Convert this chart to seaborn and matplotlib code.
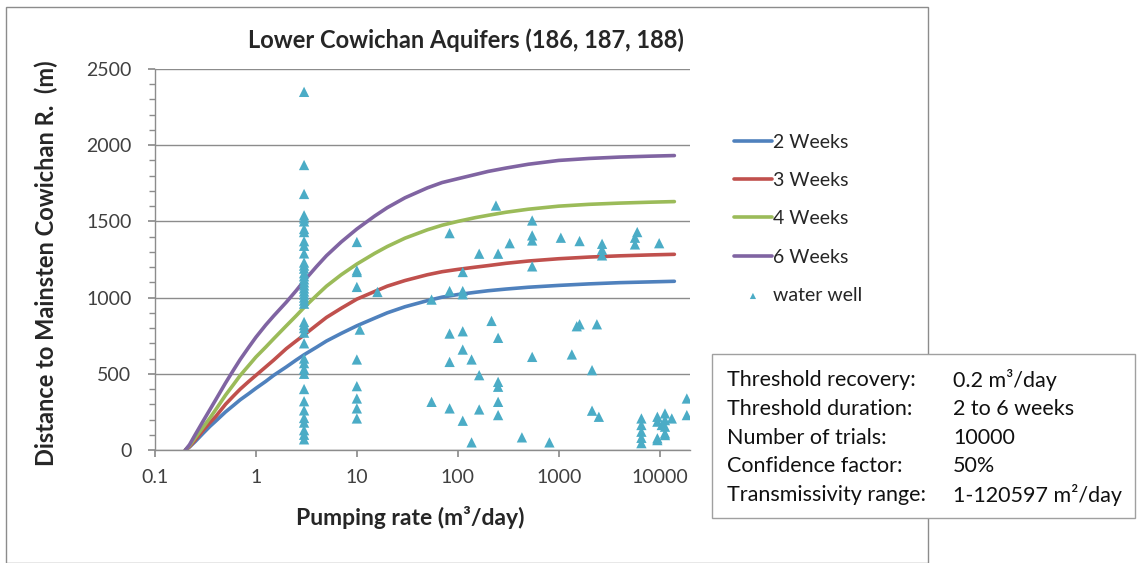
import seaborn as sns
import matplotlib.pyplot as plt
import pandas as pd
from matplotlib.patches import Rectangle
from matplotlib.ticker import FixedLocator, MultipleLocator

# curve values (pumping rate m3/day -> distance m)
curve_q = [0.2, 0.22, 0.25, 0.3, 0.35, 0.4, 0.5, 0.6, 0.7, 0.85, 1, 1.25, 1.5, 2, 2.5, 3, 4,
           5, 7, 10, 15, 20, 30, 50, 70, 100, 150, 200, 300, 500, 1000, 2000, 4000, 8000,
           14000]
weeks2 = [0, 20, 55, 110, 155, 190, 250, 293, 330, 370, 405, 450, 490, 545, 590, 625, 675,
          715, 765, 815, 865, 900, 940, 980, 1003, 1020, 1035, 1045, 1056, 1068, 1080, 1090,
          1098, 1103, 1107]
weeks3 = [0, 22, 65, 130, 180, 220, 300, 355, 400, 450, 490, 545, 590, 665, 715, 755, 820,
          870, 930, 990, 1040, 1075, 1112, 1150, 1170, 1185, 1200, 1210, 1225, 1240, 1255,
          1266, 1274, 1280, 1284]
weeks4 = [0, 28, 80, 150, 210, 265, 360, 430, 490, 555, 610, 675, 730, 815, 880, 935, 1015,
          1075, 1150, 1220, 1290, 1335, 1390, 1445, 1475, 1500, 1525, 1540, 1560, 1580, 1600,
          1612, 1620, 1626, 1630]
weeks6 = [0, 35, 100, 190, 265, 330, 440, 525, 595, 675, 740, 820, 880, 970, 1045, 1110, 1205,
          1275, 1365, 1450, 1535, 1590, 1655, 1720, 1755, 1780, 1808, 1828, 1850, 1875, 1900,
          1913, 1922, 1928, 1932]
series_names = ['2 Weeks', '3 Weeks', '4 Weeks', '6 Weeks']
series_colors = ['#4F81BD', '#C0504D', '#9BBB59', '#8064A2']

# water wells
well_q = ([3] * 42
          + [10] * 9 + [10.7, 16, 55, 55]
          + [83] * 5 + [112] * 6 + [137] * 2 + [163] * 3 + [216, 239] + [251] * 6
          + [327, 432] + [546] * 5 + [809, 1050, 1350, 1510, 1610, 1610]
          + [2140, 2140, 2390, 2500] + [2690] * 3 + [5700, 5700, 6000]
          + [6600] * 5 + [9500] * 4 + [9900] + [11300] * 5 + [10500, 13200] + [18600, 18600])
well_d = ([2350, 1870, 1680, 1540, 1520, 1500, 1450, 1430, 1370, 1340, 1290, 1230, 1210,
           1190, 1160, 1140, 1120, 1100, 1080, 1060, 1040, 1020, 1000, 980, 960, 840, 820,
           800, 770, 700, 600, 570, 530, 500, 400, 320, 260, 210, 180, 130, 100, 70]
          + [1365, 1179, 1168, 1070, 594, 419, 338, 273, 207, 790, 1037, 987, 316]
          + [1423, 1043, 764, 578, 273]
          + [1168, 1043, 1022, 779, 659, 192]
          + [594, 50] + [1288, 491, 266] + [847, 1604]
          + [1288, 736, 447, 415, 316, 229]
          + [1357, 83] + [1506, 1408, 1375, 1205, 611]
          + [50, 1393, 627, 812, 825, 1371]
          + [524, 258, 825, 218] + [1353, 1314, 1277] + [1393, 1349, 1430]
          + [207, 164, 120, 80, 45] + [218, 186, 77, 65] + [1357]
          + [240, 196, 153, 109, 98] + [164, 207] + [338, 229])

info_keys = ['Threshold recovery:', 'Threshold duration:', 'Number of trials:',
             'Confidence factor:', 'Transmissivity range:']
info_vals = ['0.2 m³/day', '2 to 6 weeks', '10000', '50%', '1-120597 m²/day']

x_ticks = [0.1, 1, 10, 100, 1000, 10000]
x_tick_labels = ['0.1', '1', '10', '100', '1000', '10000']

sns.set_theme(style='white')
plt.rcParams['font.family'] = ['Lato', 'DejaVu Sans']

W, H = 1137, 563
fig = plt.figure(figsize=(W / 100, H / 100), dpi=100)
ax = fig.add_axes([155 / W, 1 - 450 / H, (690 - 155) / W, (450 - 69) / H])

curves = pd.DataFrame({'q': curve_q * 4,
                       'dist': weeks2 + weeks3 + weeks4 + weeks6,
                       'series': sum([[n] * len(curve_q) for n in series_names], [])})
for name, col in zip(series_names, series_colors):
    sub = curves[curves['series'] == name]
    sns.lineplot(data=sub, x='q', y='dist', color=col, linewidth=2.6, label=name, ax=ax,
                 zorder=2)

sns.scatterplot(x=well_q, y=well_d, marker='^', color='#4BACC6', s=55, edgecolor='none',
                label='water well', ax=ax, zorder=3)

ax.set_xscale('log')
ax.set_xlim(0.1, 20000)
ax.set_ylim(0, 2500)
ax.xaxis.set_major_locator(FixedLocator(x_ticks))
ax.set_xticklabels(x_tick_labels)
ax.xaxis.set_minor_locator(FixedLocator([]))
ax.yaxis.set_major_locator(MultipleLocator(500))
ax.yaxis.set_minor_locator(MultipleLocator(100))
ax.grid(axis='y', color='#8c8c8c', linewidth=1.0)
ax.grid(axis='x', visible=False)
for s in ['top', 'right']:
    ax.spines[s].set_visible(False)
for s in ['left', 'bottom']:
    ax.spines[s].set_color('#8c8c8c')
    ax.spines[s].set_linewidth(1.0)
ax.tick_params(axis='both', which='major', direction='out', length=5, color='#8c8c8c',
               labelsize=14, labelcolor='#404040')
ax.tick_params(axis='y', which='major', pad=12, left=True)
ax.tick_params(axis='x', which='major', pad=9, bottom=True)
ax.tick_params(axis='y', which='minor', direction='out', length=4, color='#8c8c8c', left=True)

ax.set_xlabel('Pumping rate (m³/day)', fontsize=16.5, fontweight='bold')
ax.xaxis.set_label_coords((410 - 155) / 535, (450 - 506) / 381)
ax.set_ylabel('Distance to Mainsten Cowichan R.  (m)', fontsize=17, fontweight='bold')
ax.yaxis.set_label_coords((58 - 155) / 535, (450 - 263) / 381)
fig.text(466 / W, 1 - 40 / H, 'Lower Cowichan Aquifers (186, 187, 188)', fontsize=17,
         fontweight='bold', ha='center', va='center')

handles, labels = ax.get_legend_handles_labels()
ax.legend(handles, labels, loc='upper left', bbox_to_anchor=(716 / W, 1 - 116 / H),
          bbox_transform=fig.transFigure, frameon=False, fontsize=14, handlelength=2.0,
          handletextpad=0.05, labelspacing=1.1, markerscale=0.6)

# chart border and info box
fig.patches.append(Rectangle((6 / W, 0), 922 / W, 1 - 7 / H, transform=fig.transFigure,
                             fill=False, edgecolor='#8c8c8c', linewidth=1.0))
fig.patches.append(Rectangle((712 / W, 1 - 518 / H), 423 / W, 164 / H,
                             transform=fig.transFigure, facecolor='white',
                             edgecolor='#a0a0a0', linewidth=1.0, zorder=5))
for i, (k, v) in enumerate(zip(info_keys, info_vals)):
    yy = 1 - (380 + i * 28.8) / H
    fig.text(727 / W, yy, k, fontsize=15.5, ha='left', va='center', color='#111111', zorder=6)
    fig.text(953 / W, yy, v, fontsize=15.5, ha='left', va='center', color='#111111', zorder=6)

fig.savefig('out.png', dpi=100)
